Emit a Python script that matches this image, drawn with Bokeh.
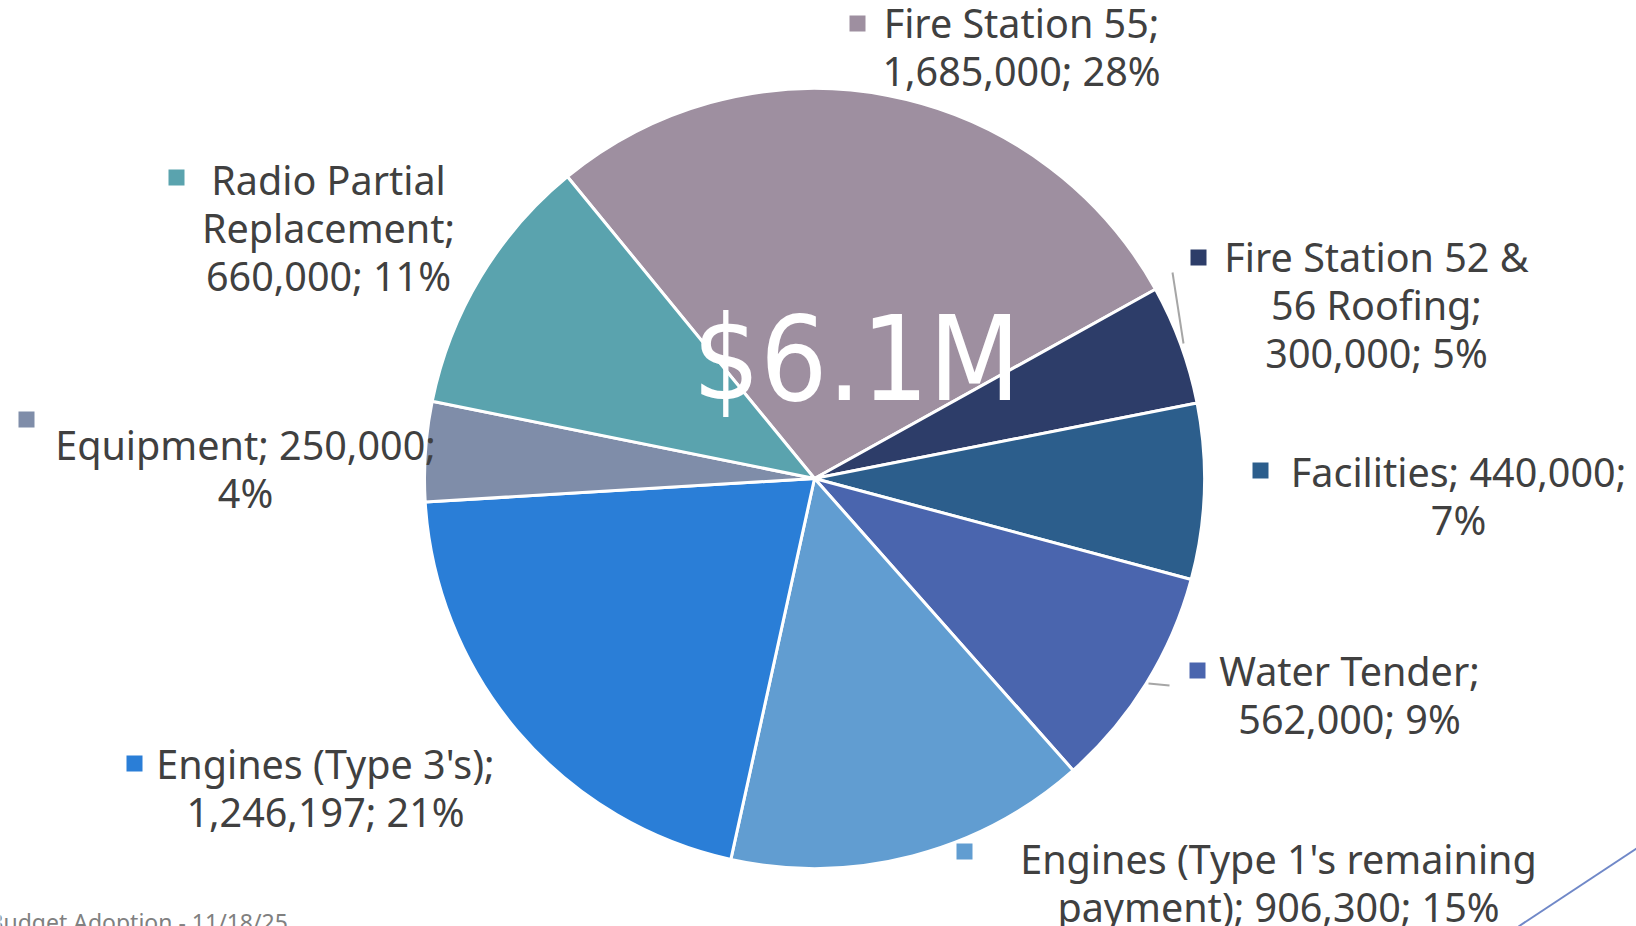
import textwrap
from bokeh.plotting import figure
from bokeh.models import Range1d
from bokeh.embed import file_html
from bokeh.resources import INLINE
from bokeh.core.properties import value

# ---------------- data ----------------
categories = ["Fire Station 55", "Fire Station 52 & 56 Roofing", "Facilities",
              "Water Tender", "Engines (Type 1's remaining payment)",
              "Engines (Type 3's)", "Equipment", "Radio Partial Replacement"]
amounts = [1685000, 300000, 440000, 562000, 906300, 1246197, 250000, 660000]
colors = ["#9E8FA0", "#2D3D69", "#2C5E8C", "#4A65AE", "#619DD1",
          "#2A7ED7", "#7F8DA9", "#5AA3AE"]
center_label = "$6.1M"
footer_text = "Budget Adoption - 11/18/25"

# ---------------- layout (pixel coordinates of the 1636x926 page) ----------------
W, H = 1636, 926
def Y(ypix):
    return H - ypix

cx, cy, R = 814, 478, 390
start_deg = 320.7          # clockwise from 12 o'clock, where first slice starts
wrap_widths = [16, 17, 20, 14, 27, 19, 19, 13]
label_cx = [1021, 1376, 1458, 1349, 1278, 325, 245, 328]   # centre x of text block
label_y1 = [22, 256, 471, 670, 858, 763, 444, 179]         # centre y of first line
marker_xy = [(857, 23), (1198, 257), (1260, 470), (1197, 670),
             (964, 851), (134, 763), (26, 419), (176, 177)]
line_h = 48
font = "Noto Sans"
fs = "39.5px"

p = figure(width=W, height=H, output_backend="svg", toolbar_location=None,
           x_range=Range1d(0, W), y_range=Range1d(0, H),
           min_border=0)
p.axis.visible = False
p.grid.visible = False
p.outline_line_color = None
p.background_fill_color = "white"

total = float(sum(amounts))
cum = 0.0
starts, ends = [], []
for a in amounts:
    t0 = start_deg + cum / total * 360.0
    cum += a
    t1 = start_deg + cum / total * 360.0
    starts.append(90.0 - t0)
    ends.append(90.0 - t1)

p.wedge(x=[cx] * len(amounts), y=[Y(cy)] * len(amounts), radius=R,
        start_angle=starts, end_angle=ends, start_angle_units="deg",
        end_angle_units="deg", direction="clock",
        fill_color=colors, line_color="white", line_width=3)

# centre text
p.text(x=[856], y=[Y(358)], text=[center_label],
       text_font=value("DejaVu Sans Condensed"),
       text_font_size="118px", text_color="white", text_align="center",
       text_baseline="middle")

# leader lines
p.line(x=[1172, 1183], y=[Y(272), Y(343)], line_color="#A6A6A6", line_width=2)
p.line(x=[1148, 1169], y=[Y(683), Y(685)], line_color="#A6A6A6", line_width=2)

# data labels
lx, ly, lt = [], [], []
for i, (cat, a) in enumerate(zip(categories, amounts)):
    pct = round(a / total * 100)
    full = f"{cat}; {a:,}; {pct}%"
    for j, line in enumerate(textwrap.wrap(full, wrap_widths[i])):
        lx.append(label_cx[i])
        ly.append(Y(label_y1[i] + j * line_h))
        lt.append(line)
p.text(x=lx, y=ly, text=lt, text_font=value(font), text_font_size=fs,
       text_color="#404040", text_align="center", text_baseline="middle")

p.scatter(x=[m[0] for m in marker_xy], y=[Y(m[1]) for m in marker_xy],
          marker="square", size=16, fill_color=colors, line_color=None)

# footer and decorative line
p.text(x=[-12], y=[Y(921)], text=[footer_text], text_font=value(font),
       text_font_size="23px", text_color="#808080", text_align="left",
       text_baseline="middle")
p.line(x=[1518, 1636], y=[Y(926), Y(848)], line_color="#7088C8", line_width=2)

open("out.html", "w").write(file_html(p, INLINE))
